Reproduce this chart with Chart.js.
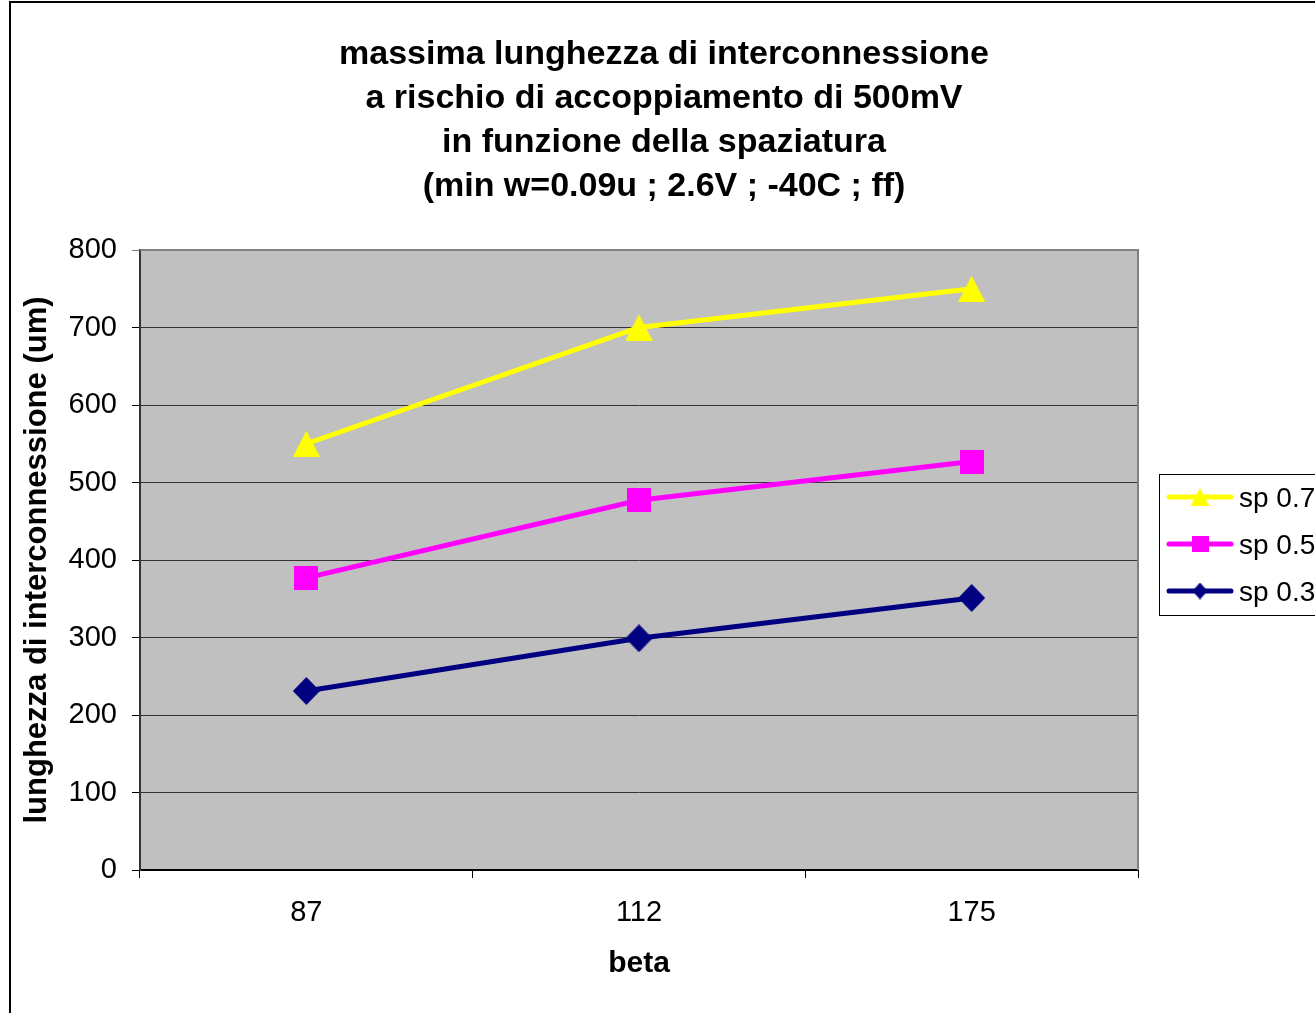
<!DOCTYPE html>
<html>
<head>
<meta charset="utf-8">
<script src="https://cdn.jsdelivr.net/npm/chart.js@4.4.0/dist/chart.umd.min.js"></script>
<style>
  html, body { margin: 0; padding: 0; background: #fff; overflow: hidden; }
  #wrap { position: absolute; left: 0; top: 0; width: 1328px; height: 1013px; }
</style>
</head>
<body>
<div id="wrap"><canvas id="chart"></canvas></div>
<script>
const categories = ["87", "112", "175"];
const seriesNames = ["sp 0.7", "sp 0.5", "sp 0.3"];
const sp07 = [550, 700, 750];
const sp05 = [377, 477, 527];
const sp03 = [231, 299, 351];
const yTicks = [0, 100, 200, 300, 400, 500, 600, 700, 800];

const titleLines = [
  "massima lunghezza di interconnessione",
  "a rischio di accoppiamento di 500mV",
  "in funzione della spaziatura",
  "(min w=0.09u ; 2.6V ; -40C ; ff)"
];

Chart.defaults.font.family = '"Liberation Sans", Arial, sans-serif';
Chart.defaults.color = "#000";

// marker pictures, drawn once
function makeMarker(shape, w, h, color) {
  const c = document.createElement("canvas");
  c.width = w;
  c.height = h;
  const g = c.getContext("2d");
  g.fillStyle = color;
  g.beginPath();
  if (shape == "triangle") {
    g.moveTo(w / 2, 0);
    g.lineTo(w, h);
    g.lineTo(0, h);
  } else if (shape == "diamond") {
    g.moveTo(w / 2, 0);
    g.lineTo(w, h / 2);
    g.lineTo(w / 2, h);
    g.lineTo(0, h / 2);
  } else {
    g.rect(0, 0, w, h);
  }
  g.closePath();
  g.fill();
  return c;
}

const colors = ["#FFFF00", "#FF00FF", "#000080"];
const markers = [
  makeMarker("triangle", 27, 26, colors[0]),
  makeMarker("square", 24, 24, colors[1]),
  makeMarker("diamond", 27, 28, colors[2])
];
const legendMarkers = [
  makeMarker("triangle", 19, 18, colors[0]),
  makeMarker("square", 17, 16, colors[1]),
  makeMarker("diamond", 15, 17, colors[2])
];

const plotBg = {
  id: "plotBg",
  beforeDraw(chart) {
    const { ctx, chartArea: a } = chart;
    ctx.save();
    ctx.fillStyle = "#fff";
    ctx.fillRect(0, 0, chart.width, chart.height);
    ctx.fillStyle = "#C0C0C0";
    ctx.fillRect(a.left, a.top, a.right - a.left, a.bottom - a.top);
    ctx.restore();
  },
  beforeDatasetsDraw(chart) {
    const { ctx, chartArea: a } = chart;
    ctx.save();
    ctx.strokeStyle = "#808080";
    ctx.lineWidth = 2;
    ctx.beginPath();
    ctx.moveTo(a.left, a.top);
    ctx.lineTo(a.right, a.top);
    ctx.lineTo(a.right, a.bottom);
    ctx.stroke();
    ctx.restore();
  }
};

const sideLegend = {
  id: "sideLegend",
  afterDraw(chart) {
    const ctx = chart.ctx;
    ctx.save();
    // outer frame of the chart object
    ctx.strokeStyle = "#000";
    ctx.lineWidth = 2;
    ctx.strokeRect(10, 2, 1308, 1100);

    ctx.lineWidth = 1;
    ctx.strokeRect(1159.5, 474.5, 300, 141);
    chart.data.datasets.forEach((ds, i) => {
      const y = 497 + i * 47;
      ctx.strokeStyle = ds.borderColor;
      ctx.lineWidth = 5;
      ctx.lineCap = "round";
      ctx.beginPath();
      ctx.moveTo(1169, y);
      ctx.lineTo(1231, y);
      ctx.stroke();
      const m = legendMarkers[i];
      ctx.drawImage(m, 1200 - m.width / 2, y - m.height / 2);
      ctx.fillStyle = "#000";
      ctx.font = '28px "Liberation Sans", Arial, sans-serif';
      ctx.textBaseline = "middle";
      ctx.fillText(ds.label, 1239, y + 2);
    });
    ctx.restore();
  }
};

new Chart(document.getElementById("chart"), {
  type: "line",
  data: {
    labels: categories,
    datasets: [
      { label: seriesNames[0], data: sp07, borderColor: colors[0], pointStyle: markers[0] },
      { label: seriesNames[1], data: sp05, borderColor: colors[1], pointStyle: markers[1] },
      { label: seriesNames[2], data: sp03, borderColor: colors[2], pointStyle: markers[2] }
    ].map(ds => Object.assign(ds, { borderWidth: 5, tension: 0, fill: false }))
  },
  options: {
    responsive: true,
    maintainAspectRatio: false,
    animation: false,
    events: [],
    layout: { padding: 0 },
    plugins: {
      legend: { display: false },
      tooltip: { enabled: false },
      title: {
        display: true,
        text: titleLines,
        color: "#000",
        font: { size: 34, weight: "bold", lineHeight: 44 / 34 },
        padding: { top: 33, bottom: 41 }
      }
    },
    scales: {
      x: {
        type: "category",
        offset: true,
        grid: { offset: true, drawOnChartArea: false, drawTicks: true, tickLength: 8, tickColor: "#000" },
        border: { color: "#000", width: 2 },
        ticks: { font: { size: 29 }, color: "#000", padding: 18 },
        title: {
          display: true,
          text: "beta",
          color: "#000",
          font: { size: 30, weight: "bold", lineHeight: 1.2 },
          padding: { top: 0, bottom: 31 }
        },
        afterFit(scale) { scale.height = 143; }
      },
      y: {
        min: 0,
        max: 800,
        afterBuildTicks(scale) { scale.ticks = yTicks.map(v => ({ value: v })); },
        grid: {
          color: c => (c.tick && c.tick.value == 800 ? "#808080" : "#333"),
          tickColor: c => (c.tick && c.tick.value == 800 ? "#808080" : "#000"),
          tickLength: 8,
          lineWidth: 1
        },
        border: { color: "#333", width: 2 },
        ticks: { font: { size: 29 }, color: "#000", padding: 15 },
        title: {
          display: true,
          text: "lunghezza di interconnessione (um)",
          color: "#000",
          font: { size: 31, weight: "bold", lineHeight: 1.2 },
          padding: { top: 19, bottom: 0 }
        },
        afterFit(scale) { scale.width = 140; }
      },
      yRight: {
        position: "right",
        display: true,
        grid: { display: false },
        border: { display: false },
        ticks: { display: false },
        afterFit(scale) { scale.width = 190; }
      }
    }
  },
  plugins: [plotBg, sideLegend]
});
</script>
</body>
</html>
